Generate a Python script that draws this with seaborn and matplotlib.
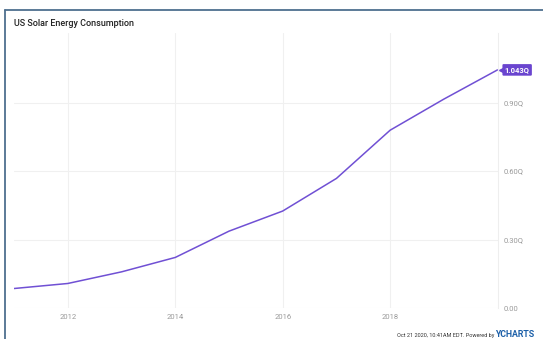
import pandas as pd
import matplotlib.pyplot as plt
import matplotlib.dates as mdates
import matplotlib.transforms as mtransforms
import seaborn as sns
from matplotlib.lines import Line2D

# annual values, plotted at year end (quadrillion Btu)
years = [2010, 2011, 2012, 2013, 2014, 2015, 2016, 2017, 2018, 2019]
consumption = [0.086, 0.108, 0.159, 0.222, 0.337, 0.425, 0.568, 0.779, 0.915, 1.043]
ytick_vals = [0.0, 0.3, 0.6, 0.9]
ytick_labels = ["0.00", "0.30Q", "0.60Q", "0.90Q"]
xtick_years = [2012, 2014, 2016, 2018]

df = pd.DataFrame({"date": pd.to_datetime([f"{y}-12-31" for y in years]),
                   "value": consumption})

sns.set_style("white")
plt.rcParams["font.family"] = ["Roboto", "DejaVu Sans"]

purple = "#7050d4"
grey = "#9a9a9a"

fig = plt.figure(figsize=(5.43, 3.39), dpi=100)
ax = fig.add_axes([0.026, 0.091, 0.891, 0.812])

sns.lineplot(data=df, x="date", y="value", ax=ax, color=purple, linewidth=1.1)

ax.set_xlim(pd.Timestamp("2010-12-31"), pd.Timestamp("2020-01-03"))
ax.set_ylim(0, 1.205)
ax.set_xticks([pd.Timestamp(f"{y}-01-01") for y in xtick_years])
ax.xaxis.set_major_formatter(mdates.DateFormatter("%Y"))
ax.set_yticks(ytick_vals)
ax.set_yticklabels(ytick_labels)
ax.yaxis.tick_right()
ax.tick_params(axis="both", length=0, labelsize=5.5, labelcolor=grey, pad=4)
ax.set_xlabel("")
ax.set_ylabel("")
ax.grid(True, color="#f0f0f0", linewidth=0.8)
for s in ["top", "left", "bottom"]:
    ax.spines[s].set_visible(False)
ax.spines["right"].set_color("#eeeeee")
ax.spines["right"].set_linewidth(0.8)

# last value tag
trans = mtransforms.blended_transform_factory(ax.transAxes, ax.transData)
ax.text(1.014, consumption[-1], f"{consumption[-1]:.3f}Q", transform=trans,
        ha="left", va="center", fontsize=5.5, color="white", fontweight="bold",
        bbox=dict(boxstyle="round,pad=0.3,rounding_size=0.15", fc="#6a45cf", ec="none"),
        clip_on=False)
ax.plot([1.009], [consumption[-1]], marker="<", markersize=4, color="#6a45cf",
        transform=trans, clip_on=False)

# frame lines of the screenshot
fig.add_artist(Line2D([5 / 543, 5 / 543], [0, 1 - 10 / 339], color="#4e6f8f", linewidth=1.3))
fig.add_artist(Line2D([5 / 543, 1], [1 - 10 / 339, 1 - 10 / 339], color="#4e6f8f", linewidth=1.3))

fig.text(14 / 543, 1 - 24 / 339, "US Solar Energy Consumption", fontsize=6.5,
         color="#222222", va="center", ha="left", fontweight="medium")
fig.text(494 / 543, 1 - 335.5 / 339, "Oct 21 2020, 10:41AM EDT. Powered by", fontsize=4,
         color="#333333", va="center", ha="right")
fig.text(495 / 543, 1 - 334.5 / 339, "YCHARTS", fontsize=6.3, color="#1b5fa8",
         fontweight="bold", va="center", ha="left")

plt.savefig("out.png", dpi=100)
